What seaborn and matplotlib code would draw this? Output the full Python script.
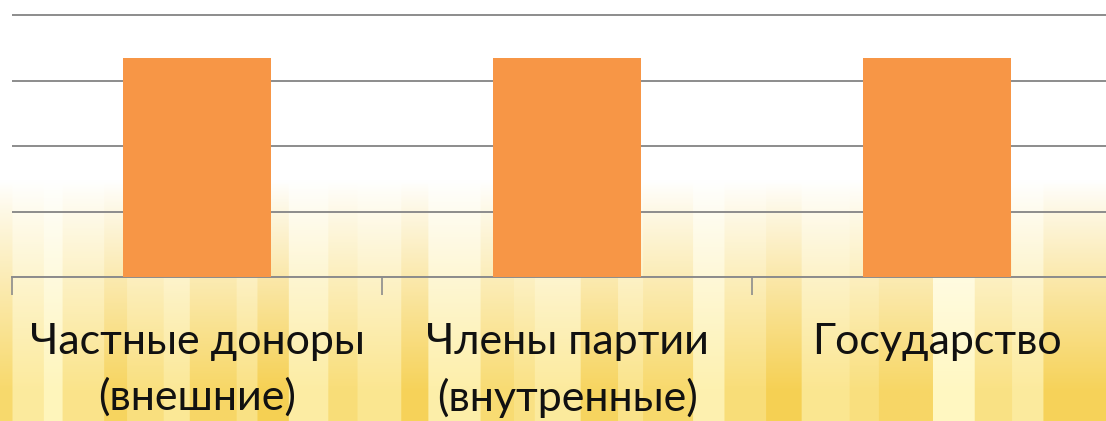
import numpy as np
import pandas as pd
import matplotlib
matplotlib.use("Agg")
import matplotlib.pyplot as plt
import seaborn as sns

categories = ["Частные доноры\n(внешние)", "Члены партии\n(внутренные)", "Государство"]
values = [3.35, 3.35, 3.35]
bar_color = "#F79646"

sns.set_theme(style="white")
plt.rcParams['font.family'] = ['Lato', 'DejaVu Sans']

W, H = 1106, 421
fig = plt.figure(figsize=(W / 100, H / 100), dpi=100)
fig.patch.set_facecolor("white")

# decorative background: yellow vertical stripes (varied widths) fading in toward the bottom
stripe_levels = [0.7, 0.3, 0.05, 0.45, 0.8, 0.55, 0.35, 0.75, 0.5, 0.9, 0.25, 0.6,
                 0.4, 0.85, 0.2, 0.65, 0.5, 0.3, 0.8, 0.45, 0.7, 0.15, 0.6, 0.9,
                 0.4, 0.55, 0.75, 0.0, 0.5, 0.3, 0.85]
stripe_widths = [12, 30, 18, 40, 22, 35, 25, 45, 20, 30, 38, 28,
                 42, 26, 50, 32, 20, 44, 36, 24, 48, 30, 40, 34,
                 46, 28, 52, 40, 36, 30, 60]
lv = np.repeat(np.array(stripe_levels), stripe_widths)
light = np.array([1.0, 0.97, 0.76])
strong = np.array([0.96, 0.80, 0.28])
cols = light[None, :] * (1 - lv[:, None]) + strong[None, :] * lv[:, None]
nx = len(lv)
ny = 300
yy = np.linspace(0, 1, ny)  # 0 top, 1 bottom
ramp = np.clip((yy - 0.43) / 0.5, 0, 1) ** 0.9
img = (1 - ramp[:, None, None]) * np.ones((1, nx, 3)) + ramp[:, None, None] * cols[None, :, :]
bg = fig.add_axes([0, 0, 1, 1], zorder=-10)
bg.imshow(img, aspect="auto", interpolation="antialiased", extent=[0, 1, 0, 1])
bg.axis("off")

ax_left = 12 / W
ax_w = 1110 / W
ax_bottom = (H - 277) / H
ax_h = 277 / H
ax = fig.add_axes([ax_left, ax_bottom, ax_w, ax_h])
ax.patch.set_alpha(0)

df = pd.DataFrame({"cat": categories, "val": values})
sns.barplot(data=df, x="cat", y="val", color=bar_color, saturation=1, width=0.4,
            linewidth=0, ax=ax, zorder=3)

ax.set_xlim(-0.5, 2.5)
ax.set_ylim(0, 4.23)
ax.set_yticks([0, 1, 2, 3, 4])
ax.yaxis.grid(True, color="#8c8c8c", linewidth=1.4, zorder=0)
ax.set_axisbelow(True)
ax.set_yticklabels([])
ax.tick_params(axis="y", length=0)
for s in ["top", "right", "left"]:
    ax.spines[s].set_visible(False)
ax.spines["bottom"].set_color("#8c8c8c")
ax.spines["bottom"].set_linewidth(1.4)

ax.set_xticks([0, 1, 2])
ax.set_xticklabels(categories, fontsize=31, color="#111111", linespacing=1.5)
ax.tick_params(axis="x", length=0, pad=33)
ax.set_xticks([-0.5, 0.5, 1.5, 2.5], minor=True)
ax.tick_params(axis="x", which="minor", length=13, width=1.2, color="#8c8c8c", direction="out", bottom=True)
ax.set_xlabel("")
ax.set_ylabel("")

fig.savefig("out.png", dpi=100)
